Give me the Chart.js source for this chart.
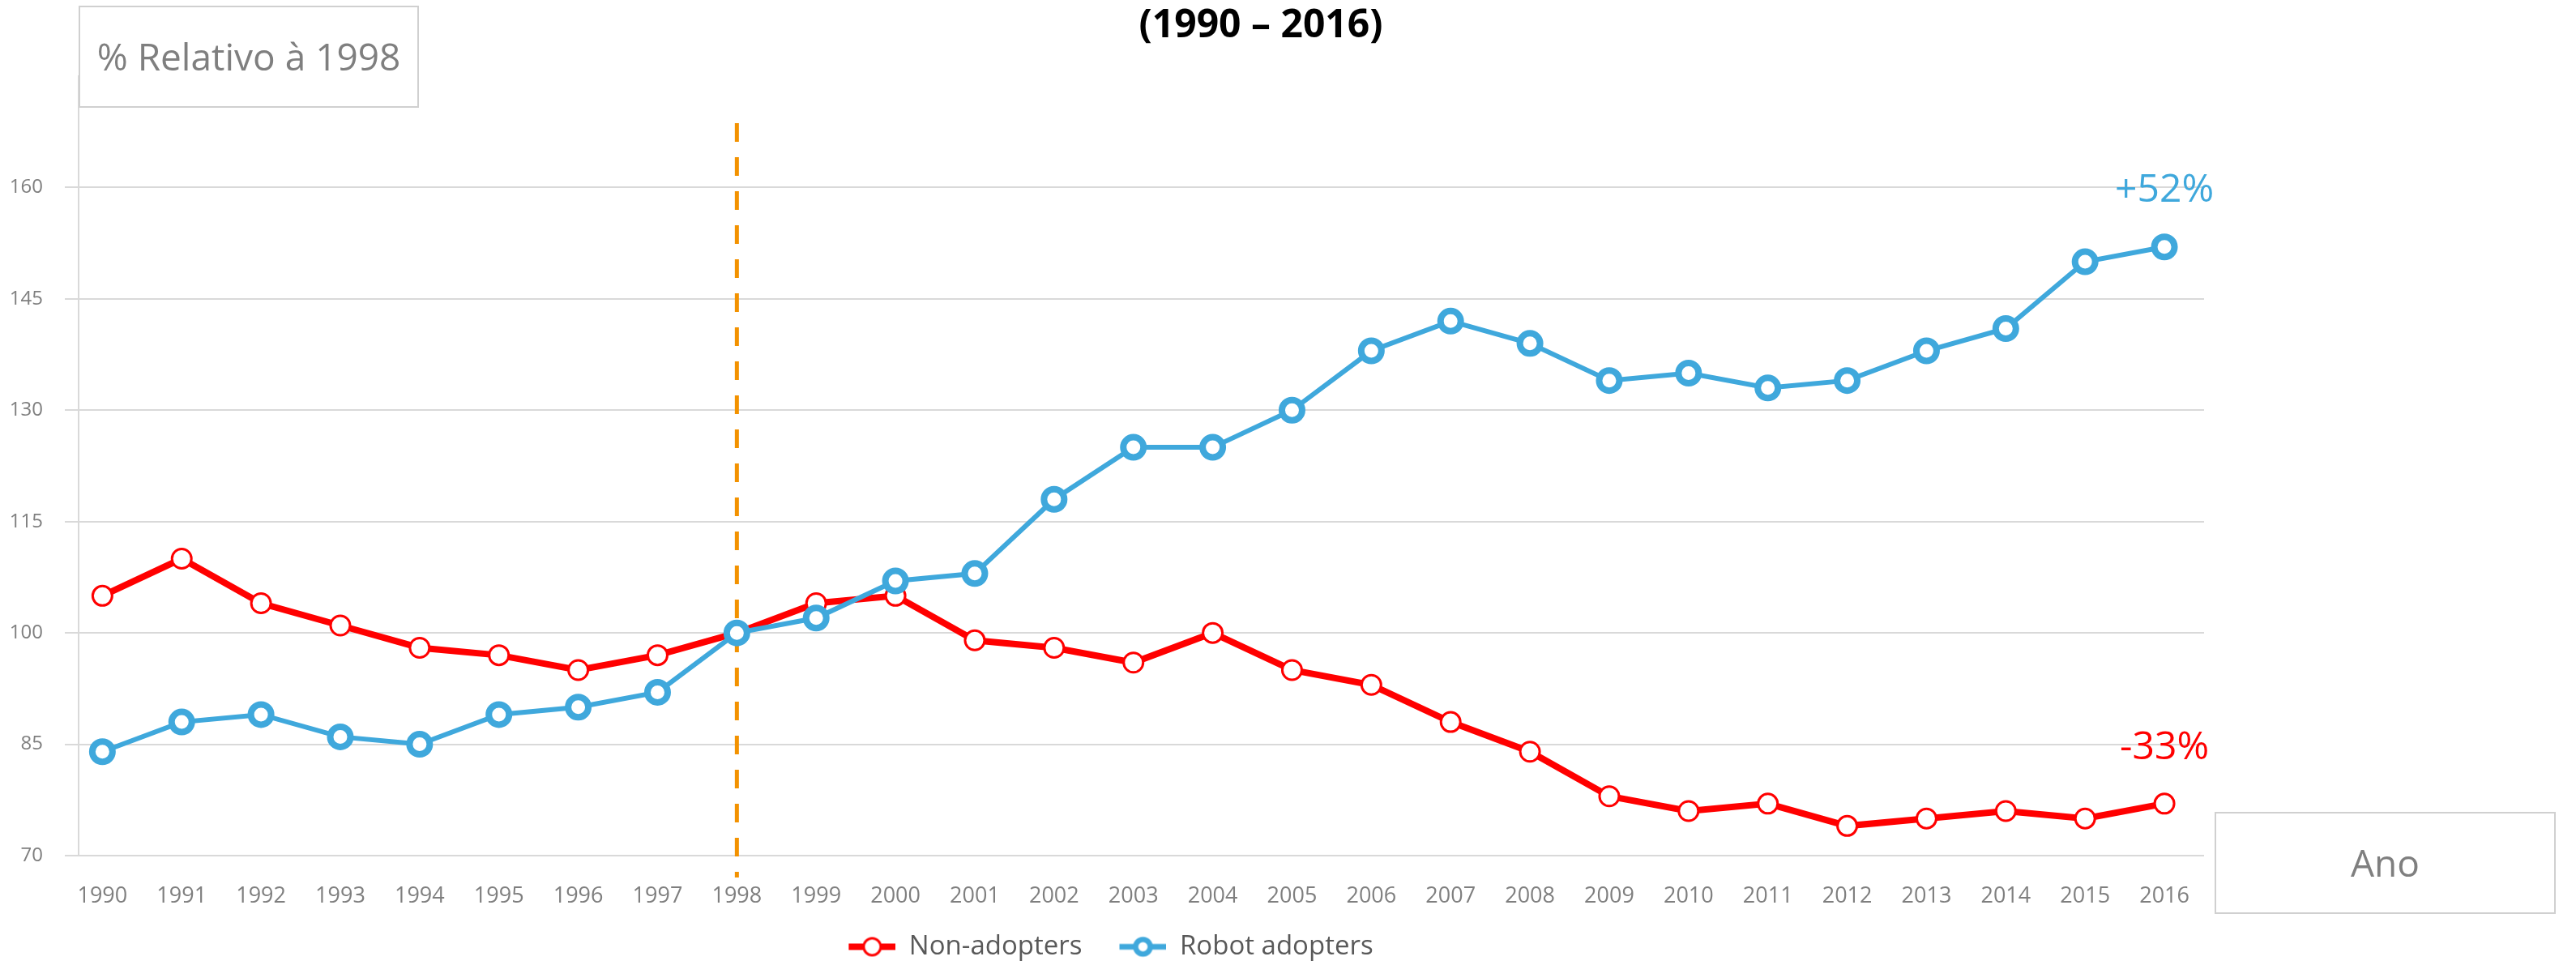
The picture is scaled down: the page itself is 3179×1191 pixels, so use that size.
<!DOCTYPE html>
<html>
<head>
<meta charset="utf-8">
<script src="https://cdn.jsdelivr.net/npm/chart.js@4.4.1/dist/chart.umd.min.js"></script>
<style>
    html, body { margin: 0; padding: 0; background: #fff; }
    canvas { display: block; }
</style>
</head>
<body>
<canvas id="graficoRobos" width="3179" height="1191"></canvas>
<script>
const anos = [1990, 1991, 1992, 1993, 1994, 1995, 1996, 1997, 1998, 1999, 2000, 2001, 2002, 2003,
    2004, 2005, 2006, 2007, 2008, 2009, 2010, 2011, 2012, 2013, 2014, 2015, 2016];
const nonAdopters = [105, 110, 104, 101, 98, 97, 95, 97, 100, 104, 105, 99, 98, 96,
    100, 95, 93, 88, 84, 78, 76, 77, 74, 75, 76, 75, 77];
const robotAdopters = [84, 88, 89, 86, 85, 89, 90, 92, 100, 102, 107, 108, 118, 125,
    125, 130, 138, 142, 139, 134, 135, 133, 134, 138, 141, 150, 152];
const ticksY = [70, 85, 100, 115, 130, 145, 160];
const anoReferencia = 1998;
const titulo = '(1990 – 2016)';
const rotuloRobot = '+52%';
const rotuloNon = '-33%';

const VERMELHO = '#ff0000';
const AZUL = '#3fa8dc';
const LARANJA = '#f39200';
const CINZA = '#7f7f7f';
const FONTE = "'Open Sans', 'Noto Sans', sans-serif";

// marcador da legenda: linha + circulo, encostado a direita (a folga a esquerda separa os itens)
const criaMarcador = (cor, raio, borda, espessura) => {
    const c = document.createElement('canvas');
    c.width = 80;
    c.height = 28;
    const g = c.getContext('2d');
    g.strokeStyle = cor;
    g.lineWidth = espessura;
    g.beginPath();
    g.moveTo(22, 14);
    g.lineTo(80, 14);
    g.stroke();
    g.fillStyle = '#fff';
    g.lineWidth = borda;
    g.beginPath();
    g.arc(51, 14, raio, 0, Math.PI * 2);
    g.fill();
    g.stroke();
    return c;
};

const marcadorNon = criaMarcador(VERMELHO, 10.5, 3, 8);
const marcadorRobot = criaMarcador(AZUL, 9, 6.5, 7);

const linhaReferencia = {
    id: 'linhaReferencia',
    beforeDatasetsDraw(chart) {
        const ctx = chart.ctx;
        const x = chart.scales.x.getPixelForValue(anoReferencia);
        ctx.save();
        ctx.strokeStyle = LARANJA;
        ctx.lineWidth = 5;
        ctx.setLineDash([23, 19]);
        ctx.beginPath();
        ctx.moveTo(x, 152);
        ctx.lineTo(x, chart.chartArea.bottom + 27);
        ctx.stroke();
        ctx.restore();
    }
};

const caixasTexto = {
    id: 'caixasTexto',
    afterDraw(chart) {
        const ctx = chart.ctx;
        const caixa = (x, y, w, h, texto, tam) => {
            ctx.fillStyle = '#fff';
            ctx.fillRect(x, y, w, h);
            ctx.strokeStyle = '#d0d0d0';
            ctx.lineWidth = 2;
            ctx.strokeRect(x, y, w, h);
            ctx.fillStyle = CINZA;
            ctx.font = tam + 'px ' + FONTE;
            ctx.textAlign = 'center';
            ctx.textBaseline = 'middle';
            ctx.fillText(texto, x + w / 2, y + h / 2 + 4);
        };
        ctx.save();
        caixa(98, 8, 418, 124, '% Relativo à 1998', 46);
        caixa(2734, 1003, 419, 124, 'Ano', 46);

        // titulo
        ctx.fillStyle = '#000';
        ctx.font = 'bold 48px ' + FONTE;
        ctx.textAlign = 'center';
        ctx.textBaseline = 'middle';
        ctx.fillText(titulo, 1556, 32);

        // rotulos no fim das series
        const xs = chart.scales.x, ys = chart.scales.y;
        const ult = anos.length - 1;
        ctx.font = '48px ' + FONTE;
        ctx.fillStyle = AZUL;
        ctx.fillText(rotuloRobot, xs.getPixelForValue(anos[ult]), ys.getPixelForValue(robotAdopters[ult]) - 69);
        ctx.fillStyle = VERMELHO;
        ctx.fillText(rotuloNon, xs.getPixelForValue(anos[ult]), ys.getPixelForValue(nonAdopters[ult]) - 69);
        ctx.restore();
    }
};

const ctx1 = document.getElementById('graficoRobos').getContext('2d');

const graficoRobos = new Chart(ctx1, {
    type: 'line',
    data: {
        datasets: [{
            label: 'Non-adopters',
            data: anos.map((a, i) => ({ x: a, y: nonAdopters[i] })),
            borderColor: VERMELHO,
            borderWidth: 8,
            pointRadius: 12,
            pointBorderWidth: 3,
            pointBackgroundColor: '#fff',
            pointBorderColor: VERMELHO,
            tension: 0,
            order: 1
        },
        {
            label: 'Robot adopters',
            data: anos.map((a, i) => ({ x: a, y: robotAdopters[i] })),
            borderColor: AZUL,
            borderWidth: 6,
            pointRadius: 12.5,
            pointBorderWidth: 8,
            pointBackgroundColor: '#fff',
            pointBorderColor: AZUL,
            tension: 0,
            order: 0
        }]
    },
    options: {
        responsive: false,
        animation: false,
        layout: {
            padding: { left: 0, right: 459, top: 94, bottom: -4 }
        },
        plugins: {
            tooltip: { enabled: false },
            title: { display: false },
            legend: {
                position: 'bottom',
                labels: {
                    usePointStyle: true,
                    pointStyleWidth: 80,
                    color: '#595959',
                    font: { family: FONTE, size: 33 },
                    padding: 24,
                    generateLabels: () => [
                        { text: 'Non-adopters', pointStyle: marcadorNon, fontColor: '#595959', lineWidth: 0, hidden: false, datasetIndex: 0 },
                        { text: 'Robot adopters', pointStyle: marcadorRobot, fontColor: '#595959', lineWidth: 0, hidden: false, datasetIndex: 1 }
                    ]
                }
            }
        },
        scales: {
            x: {
                type: 'linear',
                min: 1989.7,
                max: 2016.5,
                afterBuildTicks: (axis) => { axis.ticks = anos.map(a => ({ value: a })); },
                afterFit: (scale) => { scale.height = 72; },
                grid: { display: false, drawTicks: false },
                border: { display: false },
                ticks: {
                    color: CINZA,
                    font: { family: FONTE, size: 27 },
                    padding: 34,
                    maxRotation: 0,
                    autoSkip: false,
                    callback: (v) => String(v)
                }
            },
            y: {
                min: 70,
                max: 175,
                afterBuildTicks: (axis) => { axis.ticks = ticksY.map(v => ({ value: v })); },
                afterFit: (scale) => { scale.width = 97; },
                grid: { color: '#d9d9d9', lineWidth: 2, tickLength: 17 },
                border: { color: '#d9d9d9', width: 2 },
                ticks: {
                    color: CINZA,
                    font: { family: FONTE, size: 24 },
                    padding: 27
                }
            }
        }
    },
    plugins: [linhaReferencia, caixasTexto]
});
</script>
</body>
</html>
